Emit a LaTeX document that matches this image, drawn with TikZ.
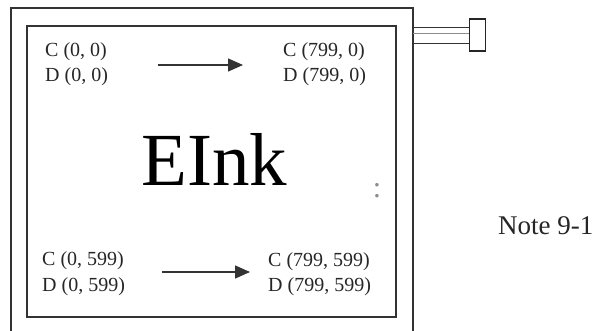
\documentclass[tikz,border=0pt]{standalone}
\usepackage{fontspec}
\setmainfont{Liberation Serif}
\usetikzlibrary{arrows.meta}
\begin{document}
\begin{tikzpicture}[x=1pt,y=-1pt,
  frame/.style={draw=black!80,line width=1.6pt},
  coord/.style={anchor=base west,inner sep=0pt,font=\fontsize{20}{24}\selectfont,text=black!85},
  flow/.style={draw=black!80,line width=1.3pt,-{Triangle[length=15pt,width=13pt]}},
  wire/.style={draw=black!80,line width=1.3pt}]
\useasboundingbox (0,0) rectangle (596,331);
\begin{scope}
\clip (0,0) rectangle (596,331);
\draw[frame] (11,340) -- (11,8) -- (413,8) -- (413,340);
\end{scope}
\draw[frame] (27,26) rectangle (396,317);
% connector
\coordinate (w1) at (413,27.5);
\coordinate (w2) at (413,34);
\coordinate (w3) at (413,43.5);
\node[draw=black!85,line width=1.3pt,minimum width=16pt,minimum height=32pt,inner sep=0pt] (plug) at (477.5,35) {};
\draw[wire] (w1) -- (w1 -| plug.west);
\draw[wire,draw=black!45,line width=1pt] (w2) -- (w2 -| plug.west);
\draw[wire] (w3) -- (w3 -| plug.west);
% labels
\node[coord] (c00) at (45,57) {C (0, 0)};
\node[coord] (d00) at (45,82) {D (0, 0)};
\node[coord] (c7990) at (283,57) {C (799, 0)};
\node[coord] (d7990) at (283,82) {D (799, 0)};
\node[coord] (c0599) at (42,265) {C (0, 599)};
\node[coord] (d0599) at (42,291) {D (0, 599)};
\node[coord] (c799599) at (268,266) {C (799, 599)};
\node[coord] (d799599) at (268,291) {D (799, 599)};
\coordinate (a1s) at (158,65);
\coordinate (a1e) at (243,65);
\coordinate (a2s) at (162,272);
\coordinate (a2e) at (250,272);
\draw[flow] (a1s) -- (a1e);
\draw[flow] (a2s) -- (a2e);
\node[anchor=base west,inner sep=0pt,font=\fontsize{75}{80}\selectfont] (eink) at (141,185) {EInk};
\node[anchor=base,inner sep=0pt,font=\fontsize{30}{30}\selectfont,text=black!45] (dots) at (377,197) {:};
\node[anchor=base west,inner sep=0pt,font=\fontsize{27}{30}\selectfont,text=black!85] (note) at (498,234) {Note 9-1};
\end{tikzpicture}
\end{document}
